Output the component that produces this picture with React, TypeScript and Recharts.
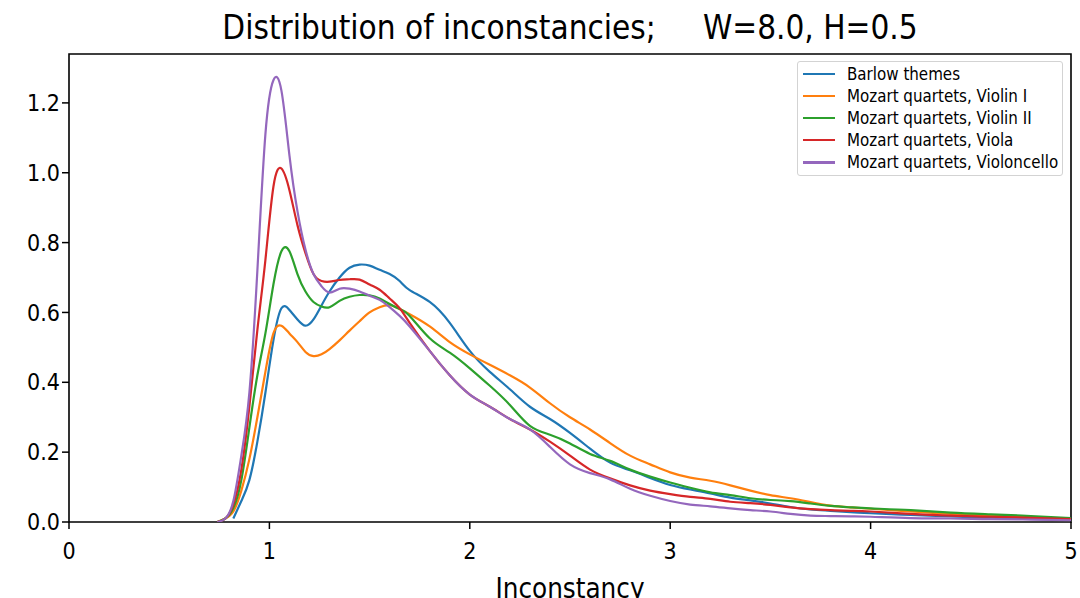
import { Line, LineChart, ReferenceArea, XAxis, YAxis } from 'recharts'

const xs = [0.74, 0.78, 0.82, 0.86, 0.90, 0.94, 0.98, 1.02, 1.06, 1.10, 1.14, 1.18, 1.22, 1.26, 1.30, 1.35, 1.40, 1.45, 1.50, 1.55,
  1.60, 1.65, 1.70, 1.80, 1.90, 2.00, 2.10, 2.20, 2.30, 2.40, 2.50, 2.60, 2.70, 2.80, 2.90, 3.00, 3.10, 3.20, 3.30, 3.40,
  3.50, 3.60, 3.70, 3.80, 3.90, 4.00, 4.20, 4.40, 4.60, 4.80, 5.00]

const barlow = [null, null, 0.01, 0.06, 0.12, 0.23, 0.37, 0.52, 0.612, 0.607, 0.58, 0.562, 0.58, 0.62, 0.66, 0.70, 0.728, 0.737, 0.734, 0.722,
  0.71, 0.69, 0.664, 0.63, 0.57, 0.49, 0.43, 0.38, 0.33, 0.295, 0.255, 0.21, 0.17, 0.148, 0.126, 0.106, 0.093, 0.082, 0.07, 0.062,
  0.053, 0.043, 0.036, 0.032, 0.028, 0.025, 0.02, 0.016, 0.012, 0.009, 0.006]
const violin1 = [0, 0.01, 0.03, 0.09, 0.18, 0.30, 0.43, 0.54, 0.562, 0.54, 0.515, 0.487, 0.475, 0.48, 0.495, 0.52, 0.548, 0.575, 0.60, 0.615,
  0.621, 0.61, 0.595, 0.56, 0.515, 0.48, 0.45, 0.42, 0.385, 0.34, 0.30, 0.265, 0.226, 0.19, 0.165, 0.142, 0.127, 0.118, 0.105, 0.09,
  0.077, 0.068, 0.057, 0.047, 0.042, 0.038, 0.03, 0.023, 0.018, 0.013, 0.008]
const violin2 = [0, 0.01, 0.04, 0.12, 0.27, 0.42, 0.54, 0.68, 0.775, 0.775, 0.71, 0.66, 0.63, 0.617, 0.615, 0.633, 0.645, 0.65, 0.649, 0.64,
  0.624, 0.61, 0.59, 0.526, 0.485, 0.44, 0.39, 0.335, 0.275, 0.25, 0.225, 0.195, 0.175, 0.15, 0.13, 0.113, 0.098, 0.085, 0.077, 0.068,
  0.063, 0.06, 0.053, 0.046, 0.042, 0.039, 0.034, 0.027, 0.022, 0.017, 0.011]
const viola = [0, 0.01, 0.05, 0.15, 0.33, 0.55, 0.75, 0.96, 1.012, 0.95, 0.85, 0.77, 0.71, 0.69, 0.688, 0.693, 0.695, 0.694, 0.68, 0.665,
  0.64, 0.612, 0.57, 0.49, 0.42, 0.365, 0.33, 0.295, 0.265, 0.23, 0.19, 0.15, 0.125, 0.105, 0.09, 0.08, 0.072, 0.066, 0.058, 0.054,
  0.049, 0.042, 0.037, 0.034, 0.032, 0.03, 0.023, 0.018, 0.015, 0.012, 0.008]
const cello = [0, 0.01, 0.06, 0.19, 0.37, 0.72, 1.11, 1.265, 1.235, 1.05, 0.89, 0.78, 0.71, 0.675, 0.657, 0.668, 0.668, 0.66, 0.648, 0.636,
  0.615, 0.59, 0.56, 0.49, 0.42, 0.365, 0.33, 0.295, 0.265, 0.215, 0.165, 0.14, 0.122, 0.095, 0.075, 0.06, 0.05, 0.045, 0.039, 0.034,
  0.03, 0.023, 0.018, 0.017, 0.016, 0.015, 0.011, 0.01, 0.008, 0.007, 0.005]

const xTicks = [0, 1, 2, 3, 4, 5]
const yTicks = [0, 0.2, 0.4, 0.6, 0.8, 1.0, 1.2]

const series = [
  { key: 'barlow', name: 'Barlow themes', color: '#1f77b4', values: barlow },
  { key: 'violin1', name: 'Mozart quartets, Violin I', color: '#ff7f0e', values: violin1 },
  { key: 'violin2', name: 'Mozart quartets, Violin II', color: '#2ca02c', values: violin2 },
  { key: 'viola', name: 'Mozart quartets, Viola', color: '#d62728', values: viola },
  { key: 'cello', name: 'Mozart quartets, Violoncello', color: '#9467bd', values: cello },
]

const rows = xs.map((x, i) => {
  const r: Record<string, number | null> = { x }
  series.forEach(s => { r[s.key] = s.values[i] })
  return r
})

const FONT = "'DejaVu Sans Condensed', 'DejaVu Sans', sans-serif"

// legend drawn as a plain box over the plot, matplotlib "upper right" style
function LegendBox() {
  return (
    <div style={{ position: 'absolute', left: 797, top: 61, width: 266, height: 115, boxSizing: 'border-box',
      border: '1px solid #d3d3d3', borderRadius: 3, background: 'rgba(255,255,255,0.85)',
      padding: '1px 0 0 5px', fontFamily: FONT, fontSize: 16.8, color: '#000' }}>
      {series.map(s => (
        <div key={s.key} style={{ display: 'flex', alignItems: 'center', height: 22.1, whiteSpace: 'nowrap' }}>
          <span style={{ display: 'inline-block', width: 32, height: 2.2, background: s.color, marginRight: 12 }} />
          <span>{s.name}</span>
        </div>
      ))}
    </div>
  )
}

export default function App() {
  return (
    <div style={{ position: 'absolute', left: 0, top: 0, width: 1080, height: 598, background: '#fff', fontFamily: FONT, overflow: 'hidden' }}>
      <div style={{ position: 'absolute', left: 69, width: 1002, top: 11, lineHeight: '33px', textAlign: 'center', fontSize: 33,
        color: '#000', whiteSpace: 'pre' }}>
        {'Distribution of inconstancies;     W=8.0, H=0.5'}
      </div>
      <LineChart width={1080} height={598} data={rows} margin={{ top: 54, right: 9, left: 0, bottom: 0 }}>
        <XAxis dataKey="x" type="number" domain={[0, 5]} ticks={xTicks} height={76} allowDataOverflow
          stroke="#000" tickLine={{ stroke: '#000', strokeWidth: 1.5 }} axisLine={false} tickSize={7}
          tick={{ fill: '#000', fontSize: 23, fontFamily: FONT }} tickMargin={14}
          label={{ value: 'Inconstancy', position: 'insideBottom', offset: 0, fill: '#000', fontSize: 27.5, fontFamily: FONT }} />
        <YAxis type="number" domain={[0, 1.34]} ticks={yTicks} width={69} allowDataOverflow tickSize={7}
          tickFormatter={(v: number) => v.toFixed(1)} axisLine={false} tickMargin={2}
          tickLine={{ stroke: '#000', strokeWidth: 1.5 }} tick={{ fill: '#000', fontSize: 23, fontFamily: FONT }} />
        <ReferenceArea x1={0} x2={5} y1={0} y2={1.34} fill="none" stroke="#000" strokeWidth={1.6} ifOverflow="visible" />
        {series.map(s => (
          <Line key={s.key} type="natural" dataKey={s.key} name={s.name} stroke={s.color} strokeWidth={2.2}
            dot={false} isAnimationActive={false} connectNulls={false} />
        ))}
      </LineChart>
      <LegendBox />
    </div>
  )
}
